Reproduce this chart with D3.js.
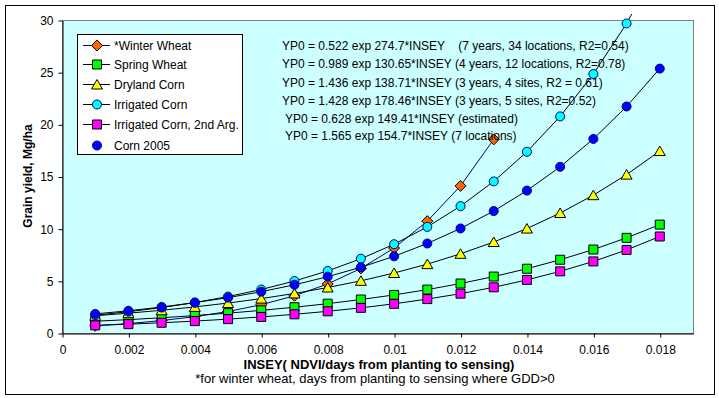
<!DOCTYPE html>
<html>
<head>
<meta charset="utf-8">
<script src="https://cdn.jsdelivr.net/npm/d3@7"></script>
<style>
  body { margin: 0; background: #fff; }
  text { font-family: "Liberation Sans", Arial, sans-serif; font-size: 12px; fill: #000; }
</style>
</head>
<body>
<script>
// INSEY values on the x axis
var insey = [0.001, 0.002, 0.003, 0.004, 0.005, 0.006, 0.007, 0.008, 0.009,
             0.010, 0.011, 0.012, 0.013, 0.014, 0.015, 0.016, 0.017, 0.018];

// grain yield, Mg/ha
var winterWheat   = [0.69, 0.90, 1.19, 1.57, 2.06, 2.71, 3.57, 4.70, 6.19, 8.14, 10.72, 14.10, 18.56];
var springWheat   = [1.13, 1.28, 1.46, 1.67, 1.90, 2.17, 2.47, 2.81, 3.21, 3.65, 4.16, 4.74, 5.41, 6.16, 7.02, 8.00, 9.12, 10.39];
var drylandCorn   = [1.65, 1.90, 2.18, 2.50, 2.87, 3.30, 3.79, 4.36, 5.00, 5.75, 6.60, 7.59, 8.72, 10.01, 11.50, 13.21, 15.18, 17.44];
var irrigatedCorn = [1.71, 2.04, 2.44, 2.92, 3.49, 4.17, 4.98, 5.95, 7.12, 8.51, 10.17, 12.16, 14.53, 17.37, 20.76, 24.82, 29.67, 35.5];
var irrigated2nd  = [0.73, 0.85, 0.98, 1.14, 1.33, 1.54, 1.79, 2.08, 2.41, 2.80, 3.25, 3.77, 4.38, 5.09, 5.91, 6.86, 7.96, 9.25];
var corn2005      = [1.83, 2.13, 2.49, 2.91, 3.39, 3.96, 4.62, 5.40, 6.30, 7.35, 8.58, 10.02, 11.69, 13.65, 15.93, 18.60, 21.71, 25.34];

var seriesNames = ["*Winter Wheat", "Spring Wheat", "Dryland Corn", "Irrigated Corn",
                   "Irrigated Corn, 2nd Arg.", "Corn 2005"];

var xTicks = [0, 0.002, 0.004, 0.006, 0.008, 0.01, 0.012, 0.014, 0.016, 0.018];
var yTicks = [0, 5, 10, 15, 20, 25, 30];

var equations = [
  "YP0 = 0.522 exp 274.7*INSEY    (7 years, 34 locations, R2=0.54)",
  "YP0 = 0.989 exp 130.65*INSEY (4 years, 12 locations, R2=0.78)",
  "YP0 = 1.436 exp 138.71*INSEY (3 years, 4 sites, R2 = 0.61)",
  "YP0 = 1.428 exp 178.46*INSEY (3 years, 5 sites, R2=0.52)",
  "YP0 = 0.628 exp 149.41*INSEY (estimated)",
  "YP0 = 1.565 exp 154.7*INSEY (7 locations)"
];

var svgWidth = 719;
var svgHeight = 398;
var plot = {left: 62, right: 693, top: 20, bottom: 333};

var svg = d3.select("body")
            .append("svg")
            .attr("width", svgWidth)
            .attr("height", svgHeight);

// chart area border
svg.append("rect")
   .attr("x", 5.5).attr("y", 5.5)
   .attr("width", 709).attr("height", 389)
   .attr("fill", "#fff")
   .attr("stroke", "#000");

var x = d3.scaleLinear().domain([0, 0.019]).range([plot.left, plot.right]);
var y = d3.scaleLinear().domain([0, 30]).range([plot.bottom, plot.top]);

// plot area
svg.append("rect")
   .attr("x", plot.left + 0.5).attr("y", plot.top + 0.5)
   .attr("width", plot.right - plot.left).attr("height", plot.bottom - plot.top)
   .attr("fill", "#ccffff")
   .attr("stroke", "#808080");

svg.append("clipPath").attr("id", "clip")
   .append("rect")
   .attr("x", plot.left).attr("y", plot.top - 6)
   .attr("width", plot.right - plot.left).attr("height", plot.bottom - plot.top + 6);

// axes
var xAxis = svg.append("g")
               .attr("transform", `translate(0.5, ${plot.bottom + 0.5})`)
               .call(d3.axisBottom(x).tickValues(xTicks).tickSize(4).tickSizeOuter(0)
                       .tickFormat(d => d === 0 ? "0" : String(+d.toFixed(3))));
var yAxis = svg.append("g")
               .attr("transform", `translate(${plot.left + 0.5}, 0.5)`)
               .call(d3.axisLeft(y).tickValues(yTicks).tickSize(4).tickSizeOuter(0));

[xAxis, yAxis].forEach(function(ax) {
  ax.select(".domain").attr("stroke", "#000");
  ax.selectAll(".tick line").attr("stroke", "#000");
  ax.selectAll("text").attr("font-family", null).attr("font-size", null).attr("fill", "#000");
});
xAxis.selectAll("text").attr("y", 20).attr("dy", null);
yAxis.selectAll("text").attr("x", -9);

// axis titles
svg.append("text")
   .attr("x", 379).attr("y", 369)
   .attr("text-anchor", "middle")
   .attr("font-weight", "bold")
   .style("font-size", "13px")
   .text("INSEY( NDVI/days from planting to sensing)");

svg.append("text")
   .attr("x", 375).attr("y", 383)
   .attr("text-anchor", "middle")
   .style("font-size", "13px")
   .text("*for winter wheat, days from planting to sensing where GDD>0");

svg.append("text")
   .attr("transform", "translate(32, 176) rotate(-90)")
   .attr("text-anchor", "middle")
   .attr("font-weight", "bold")
   .text("Grain yield, Mg/ha");

// marker shapes
function markerPath(shape) {
  if (shape === "diamond") return "M0,-5.5L5.5,0L0,5.5L-5.5,0Z";
  if (shape === "square") return "M-4.5,-4.5H4.5V4.5H-4.5Z";
  if (shape === "triangle") return "M0,-5L5.5,4.5H-5.5Z";
  return d3.arc()({innerRadius: 0, outerRadius: 4.5, startAngle: 0, endAngle: 2 * Math.PI});
}

var series = [
  {name: seriesNames[0], values: winterWheat,   line: "#000080", fill: "#ff6600", stroke: "#000",    shape: "diamond"},
  {name: seriesNames[1], values: springWheat,   line: "#000",    fill: "#00ff00", stroke: "#000",    shape: "square"},
  {name: seriesNames[2], values: drylandCorn,   line: "#000",    fill: "#ffff00", stroke: "#000",    shape: "triangle"},
  {name: seriesNames[3], values: irrigatedCorn, line: "#000",    fill: "#00ffff", stroke: "#000080", shape: "circle"},
  {name: seriesNames[4], values: irrigated2nd,  line: "#000",    fill: "#ff00ff", stroke: "#000",    shape: "square"},
  {name: seriesNames[5], values: corn2005,      line: "#000",    fill: "#0000ff", stroke: "#000080", shape: "circle", noLegendLine: true}
];

var line = d3.line()
             .x(d => x(d.x))
             .y(d => y(d.y));

series.forEach(function(s) {
  var pts = s.values.map((v, i) => ({x: insey[i], y: v}));
  var g = svg.append("g");

  g.append("path")
   .datum(pts)
   .attr("clip-path", "url(#clip)")
   .attr("fill", "none")
   .attr("stroke", s.line)
   .attr("stroke-width", 1)
   .attr("d", line);

  g.selectAll("path.mark")
   .data(pts.filter(d => d.y <= 30))
   .enter()
   .append("path")
   .classed("mark", true)
   .attr("transform", d => `translate(${x(d.x)}, ${y(d.y)})`)
   .attr("d", markerPath(s.shape))
   .attr("fill", s.fill)
   .attr("stroke", s.stroke)
   .attr("stroke-width", 1);
});

// legend
var legend = svg.append("g");
legend.append("rect")
      .attr("x", 77.5).attr("y", 34.5)
      .attr("width", 165).attr("height", 120)
      .attr("fill", "#fff")
      .attr("stroke", "#000");

var legendY = [45, 64, 84, 104, 124, 145];
series.forEach(function(s, i) {
  var ly = legendY[i];
  if (!s.noLegendLine) {
    legend.append("line")
          .attr("x1", 83).attr("x2", 110)
          .attr("y1", ly + 0.5).attr("y2", ly + 0.5)
          .attr("stroke", s.line);
  }
  legend.append("path")
        .attr("transform", `translate(97, ${ly + 0.5})`)
        .attr("d", markerPath(s.shape))
        .attr("fill", s.fill)
        .attr("stroke", s.stroke);
  legend.append("text")
        .attr("x", 114).attr("y", ly + 4.5)
        .text(s.name);
});

// regression equations
var eqX = [282, 282, 282, 282, 285, 285];
var eqY = [45, 63, 82, 100, 118, 135];
svg.selectAll("text.eq")
   .data(equations)
   .enter()
   .append("text")
   .classed("eq", true)
   .attr("x", (d, i) => eqX[i])
   .attr("y", (d, i) => eqY[i] + 4.5)
   .style("white-space", "pre")
   .text(d => d);
</script>
</body>
</html>
